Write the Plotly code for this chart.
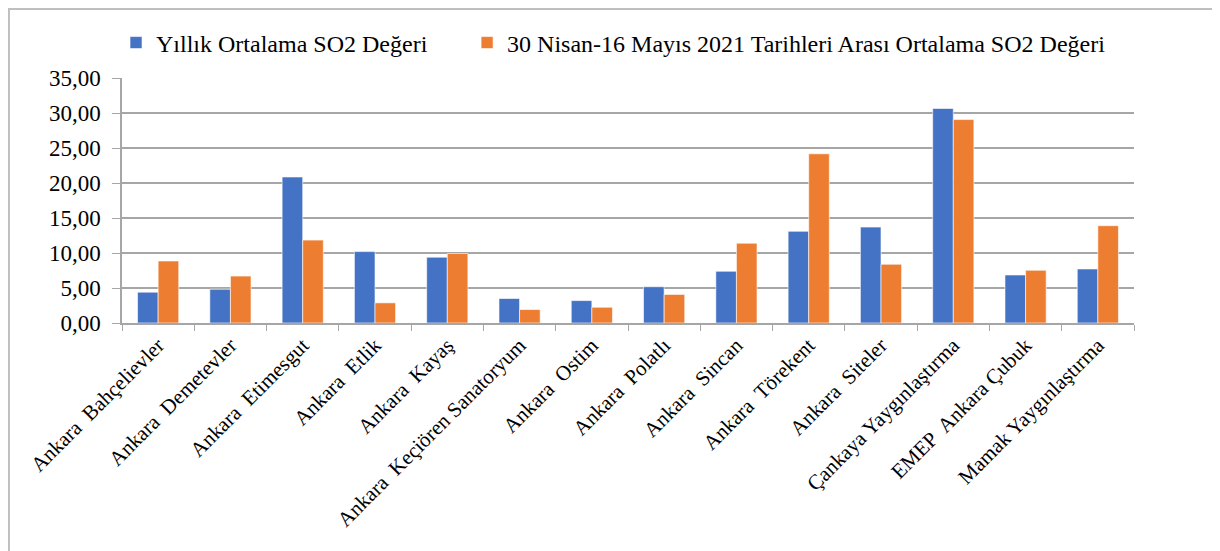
import plotly.graph_objects as go

categories = [
    "Ankara\u00a0 Bahçelievler", "Ankara\u00a0 Demetevler", "Ankara\u00a0 Etimesgut",
    "Ankara\u00a0 Etlik", "Ankara\u00a0 Kayaş", "Ankara\u00a0 Keçiören Sanatoryum",
    "Ankara\u00a0 Ostim", "Ankara\u00a0 Polatlı", "Ankara\u00a0 Sincan",
    "Ankara\u00a0 Törekent", "Ankara\u00a0 Siteler", "Çankaya Yaygınlaştırma",
    "EMEP\u00a0 Ankara Çubuk", "Mamak Yaygınlaştırma",
]
yillik = [4.40, 4.83, 20.86, 10.20, 9.40, 3.50, 3.20, 5.18, 7.39, 13.10, 13.70, 30.65, 6.86, 7.72]
nisan_mayis = [8.86, 6.70, 11.84, 2.88, 9.93, 1.92, 2.25, 4.08, 11.40, 24.17, 8.39, 29.06, 7.53, 13.90]
series_names = ["Yıllık Ortalama SO2 Değeri",
                "30 Nisan-16 Mayıs 2021 Tarihleri Arası Ortalama SO2 Değeri"]
y_ticks = [0, 5, 10, 15, 20, 25, 30, 35]

FONT = "Liberation Serif"

fig = go.Figure()
fig.add_trace(go.Bar(x=categories, y=yillik, name=series_names[0], legend="legend",
                     marker=dict(color="#4472C4", line=dict(color="#ffffff", width=0.6))))
fig.add_trace(go.Bar(x=categories, y=nisan_mayis, name=series_names[1], legend="legend2",
                     marker=dict(color="#ED7D31", line=dict(color="#ffffff", width=0.6))))

legend_common = dict(orientation="h", y=1.143, yanchor="middle",
                     font=dict(family=FONT, size=24, color="#000000"),
                     bgcolor="rgba(0,0,0,0)", itemwidth=30)

fig.update_layout(
    width=1212, height=543,
    margin=dict(l=114, r=86, t=70, b=228, autoexpand=False),
    paper_bgcolor="white", plot_bgcolor="white",
    font=dict(family=FONT, color="#000000"),
    separators=",.",
    barmode="group", bargap=0.43, bargroupgap=0,
    showlegend=True,
    legend=dict(x=-0.0059, xanchor="left", **legend_common),
    legend2=dict(x=0.341, xanchor="left", **legend_common),
    xaxis=dict(showline=True, linecolor="#a6a6a6", linewidth=1.5, automargin=False,
               ticks="outside", tickson="boundaries", ticklen=6, tickcolor="#a6a6a6",
               tickangle=-45, tickfont=dict(family=FONT, size=21, color="#000000"),
               showgrid=False),
    yaxis=dict(range=[0, 35], tickvals=y_ticks, tickformat=".2f", automargin=False,
               showline=True, linecolor="#a6a6a6", linewidth=1.5,
               ticks="outside", ticklen=8, tickcolor="#a6a6a6", ticklabelstandoff=7,
               gridcolor="#a6a6a6", gridwidth=1.5, zeroline=False,
               tickfont=dict(family=FONT, size=23, color="#000000")),
    shapes=[dict(type="rect", xref="paper", yref="paper",
                 x0=-0.1117, x1=1.083, y0=-0.97, y1=1.2816,
                 line=dict(color="#bfbfbf", width=2), fillcolor="rgba(0,0,0,0)",
                 layer="below")],
)

fig.write_html("out.html")
